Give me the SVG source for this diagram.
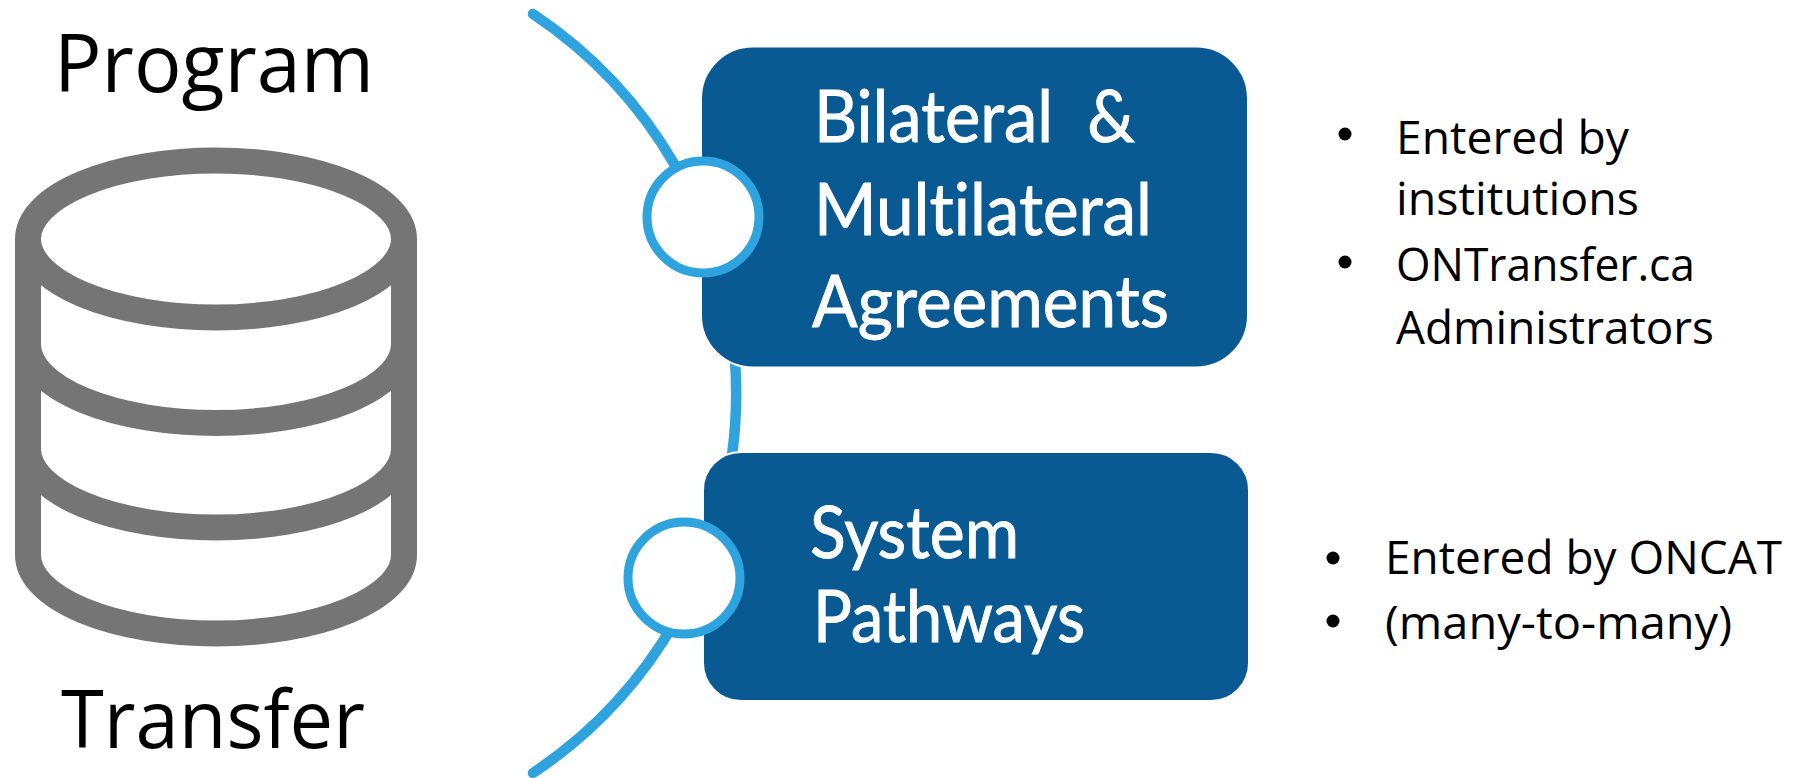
<svg xmlns="http://www.w3.org/2000/svg" width="1797" height="778" viewBox="0 0 1797 778">
<style>
.line{fill:none;stroke:#2ea3dd;stroke-width:10.5;stroke-linecap:round}
.box{fill:#095a92;stroke:#fff;stroke-width:2}
.dot{fill:#fff;stroke:#2ea3dd;stroke-width:9}
.cyl{fill:none;stroke:#757575;stroke-width:26}
.big{font-family:"Open Sans","Noto Sans",sans-serif;font-size:80px;fill:#000}
.lbl{font-family:Lato,"Open Sans",sans-serif;font-size:72px;fill:#fff;stroke:#fff;stroke-width:.9;font-variant-ligatures:none}
.note{font-family:"Open Sans","Noto Sans",sans-serif;font-size:46px;fill:#000}
</style>
<rect width="1797" height="778" fill="#fff"/>
<g id="connectors">
<path class="line" d="M533 14A456 456 0 0 1 533 773"/>
</g>
<g id="database">
<path class="cyl" d="M28 239A188 78.5 0 0 1 404 239A188 78.5 0 0 1 28 239V555A188 78.5 0 0 0 404 555V239"/>
<path class="cyl" d="M28 344.5A188 78.5 0 0 0 404 344.5M28 449A188 78.5 0 0 0 404 449"/>
<text class="big" x="54" y="92" textLength="320" lengthAdjust="spacingAndGlyphs">Program</text>
<text class="big" x="61" y="748" textLength="304" lengthAdjust="spacingAndGlyphs">Transfer</text>
</g>
<g id="node-bilateral">
<rect class="box" x="701" y="46.5" width="547" height="321" rx="52"/>
<circle class="dot" cx="703" cy="217" r="56"/>
<text class="lbl" x="814" y="142" textLength="321" lengthAdjust="spacingAndGlyphs" xml:space="preserve">Bilateral  &amp;</text>
<text class="lbl" x="814" y="235" textLength="338" lengthAdjust="spacingAndGlyphs">Multilateral</text>
<text class="lbl" x="812" y="327" textLength="357" lengthAdjust="spacingAndGlyphs">Agreements</text>
</g>
<g id="node-pathways">
<rect class="box" x="703" y="452" width="546" height="249" rx="38"/>
<circle class="dot" cx="684" cy="578" r="56"/>
<text class="lbl" x="810" y="558" textLength="209" lengthAdjust="spacingAndGlyphs">System</text>
<text class="lbl" x="813" y="642" textLength="272" lengthAdjust="spacingAndGlyphs">Pathways</text>
</g>
<g id="notes-bilateral">
<circle cx="1345" cy="134" r="6.5"/>
<text class="note" x="1396" y="154" textLength="233" lengthAdjust="spacingAndGlyphs">Entered by</text>
<text class="note" x="1396" y="215" textLength="243" lengthAdjust="spacingAndGlyphs">institutions</text>
<circle cx="1345" cy="262" r="6.5"/>
<text class="note" x="1396" y="281" textLength="299" lengthAdjust="spacingAndGlyphs">ONTransfer.ca</text>
<text class="note" x="1396" y="344" textLength="318" lengthAdjust="spacingAndGlyphs">Administrators</text>
</g>
<g id="notes-pathways">
<circle cx="1333" cy="558" r="6.5"/>
<text class="note" x="1385" y="574" textLength="397" lengthAdjust="spacingAndGlyphs">Entered by ONCAT</text>
<circle cx="1333" cy="621" r="6.5"/>
<text class="note" x="1385" y="639" textLength="347" lengthAdjust="spacingAndGlyphs">(many-to-many)</text>
</g>
</svg>
